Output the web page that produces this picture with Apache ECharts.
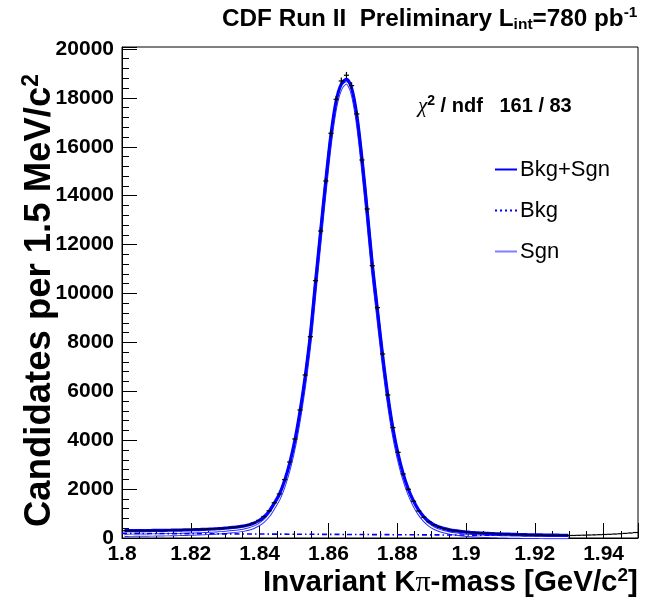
<!DOCTYPE html>
<html>
<head>
<meta charset="utf-8">
<script src="https://cdn.jsdelivr.net/npm/echarts@6/dist/echarts.min.js"></script>
<style>html,body{margin:0;padding:0;background:#fff;}#c{width:657px;height:601px;}</style>
</head>
<body>
<div id="c"></div>
<script>
// Histogram definition: 100 bins of 1.5 MeV from 1.80 to 1.95 GeV
const binLow = 1.8;
const binWidth = 0.0015;
// Candidates per bin
const counts = [
  299, 304, 300, 306, 303, 309, 312, 310, 318, 321,
  326, 333, 337, 342, 350, 357, 366, 375, 386, 398,
  414, 434, 458, 490, 535, 610, 720, 880, 1110, 1440,
  1800, 2385, 3108, 4049, 5235, 6667, 8233, 10524, 12556, 14601,
  16551, 17942, 18691, 18924, 18500, 17342, 15460, 13456, 11137, 9419,
  7526, 5849, 4513, 3505, 2618, 1992, 1501, 1104, 847, 660,
  540, 450, 385, 338, 300, 272, 250, 232, 216, 203,
  192, 182, 172, 164, 156, 149, 143, 137, 132, 127,
  122, 118, 114, 111, 108, 106, 104, 104, 110, 116,
  122, 128, 136, 144, 152, 162, 174, 188, 204, 224
];
// Fit (Bkg+Sgn) at bin centres, bins 0..86 (fit range 1.80 - 1.93)
const fitTotal = [
  300, 301, 302, 303, 305, 307, 309, 312, 315, 318,
  322, 326, 331, 337, 343, 350, 358, 368, 380, 394,
  411, 432, 455, 485, 530, 600, 705, 860, 1090, 1420,
  1790, 2340, 3060, 3990, 5180, 6600, 8300, 10450, 12550, 14620,
  16500, 17870, 18560, 18760, 18400, 17300, 15520, 13420, 11200, 9330,
  7480, 5850, 4490, 3440, 2620, 1990, 1510, 1140, 870, 670,
  535, 445, 382, 335, 299, 271, 249, 231, 216, 203,
  192, 182, 173, 165, 158, 152, 146, 141, 136, 132,
  128, 124, 121, 118, 115, 112, 110
];
// Signal component at the same points
const sgnFit = [
  110, 112, 114, 116, 119, 122, 125, 129, 132, 136,
  141, 146, 152, 159, 166, 174, 183, 194, 207, 222,
  239, 261, 285, 316, 362, 433, 539, 695, 926, 1257,
  1628, 2178, 2899, 3830, 5021, 6442, 8143, 10294, 12395, 14466,
  16347, 17718, 18409, 18609, 18250, 17151, 15372, 13273, 11054, 9185,
  7336, 5707, 4348, 3299, 2480, 1850, 1371, 1002, 733, 534,
  400, 311, 249, 203, 168, 141, 120, 102, 88, 76,
  70, 62, 55, 48, 43, 38, 34, 30, 27, 24,
  22, 20, 18, 16, 15, 13, 12
];
// Background component (linear)
const bkgMass = [1.8, 1.93];
const bkgValues = [190, 100];

const xTicks = {min: 1.8, max: 1.95, step: 0.02};
const yTicks = {min: 0, max: 20080, step: 2000};

const centre = i => binLow + binWidth * (i + 0.5);
const dataPts = counts.map((c, i) => [centre(i), c, Math.sqrt(c)]);
const totalPts = fitTotal.map((v, i) => [centre(i), v]);
const sgnPts = sgnFit.map((v, i) => [centre(i), v]);
const bkgPts = bkgMass.map((m, i) => [m, bkgValues[i]]);

const FONT = 'Liberation Sans, Arial, Helvetica, sans-serif';
const chart = echarts.init(document.getElementById('c'), null, {renderer: 'canvas'});

chart.setOption({
  animation: false,
  backgroundColor: '#fff',
  grid: {left: 122, right: 19, top: 47, bottom: 63, show: true, borderColor: '#000', borderWidth: 1, backgroundColor: 'transparent'},
  xAxis: {
    type: 'value', min: xTicks.min, max: xTicks.max, interval: xTicks.step,
    axisLine: {onZero: false, lineStyle: {color: '#000', width: 1}},
    axisTick: {inside: true, length: 15, lineStyle: {color: '#000', width: 1}},
    minorTick: {show: true, splitNumber: 4, length: 7, lineStyle: {color: '#000', width: 1}},
    splitLine: {show: false},
    axisLabel: {color: '#000', fontFamily: FONT, fontWeight: 'bold', fontSize: 21, margin: 6, showMaxLabel: false,
      formatter: v => String(+v.toFixed(2))}
  },
  yAxis: {
    type: 'value', min: yTicks.min, max: yTicks.max, interval: yTicks.step,
    axisLine: {show: true, lineStyle: {color: '#000', width: 1}},
    axisTick: {inside: true, length: 15, lineStyle: {color: '#000', width: 1}},
    minorTick: {show: true, splitNumber: 5, length: 7, lineStyle: {color: '#000', width: 1}},
    splitLine: {show: false},
    axisLabel: {color: '#000', fontFamily: FONT, fontWeight: 'bold', fontSize: 21, margin: 8, showMaxLabel: false,
      formatter: v => String(Math.round(v))}
  },
  legend: {
    orient: 'vertical', left: 490, top: 152, itemWidth: 22, itemHeight: 14, itemGap: 16,
    textStyle: {fontFamily: FONT, fontSize: 22, color: '#000', lineHeight: 25, padding: [0, 0, 0, -2]},
    data: [
      {name: 'Bkg+Sgn', icon: 'path://M0,6 L22,6 L22,8 L0,8 Z', itemStyle: {color: '#0000ff'}},
      {name: 'Bkg', icon: 'path://M0,6 L2,6 L2,8 L0,8 Z M5,6 L7,6 L7,8 L5,8 Z M10,6 L12,6 L12,8 L10,8 Z M15,6 L17,6 L17,8 L15,8 Z M20,6 L22,6 L22,8 L20,8 Z', itemStyle: {color: '#0000ff'}},
      {name: 'Sgn', icon: 'path://M0,6 L22,6 L22,8 L0,8 Z', itemStyle: {color: '#7f7fff'}}
    ]
  },
  series: [
    {name: 'Sgn', type: 'line', data: sgnPts, showSymbol: false, symbol: 'none', smooth: 0.3,
      lineStyle: {color: '#2b2bff', width: 3.2}, itemStyle: {color: '#7f7fff'}, z: 2},
    {name: 'SgnInner', type: 'line', data: sgnPts, showSymbol: false, symbol: 'none', smooth: 0.3,
      lineStyle: {color: '#ffffff', width: 1.3}, z: 2},
    {name: 'Bkg', type: 'line', data: bkgPts, showSymbol: false, symbol: 'none',
      lineStyle: {color: '#0000ff', width: 1.6, type: [5, 3, 1.5, 3]}, itemStyle: {color: '#0000ff'}, z: 3},
    {name: 'Bkg+Sgn', type: 'line', data: totalPts, showSymbol: false, symbol: 'none', smooth: 0.3,
      lineStyle: {color: '#0000ff', width: 3.2}, itemStyle: {color: '#0000ff'}, z: 4},
    {name: 'Data', type: 'custom', data: dataPts, clip: true, z: 5,
      renderItem: (params, api) => {
        const x = api.value(0), y = api.value(1), e = api.value(2);
        const c = api.coord([x, y]);
        const l = api.coord([x - binWidth / 2, y]);
        const r = api.coord([x + binWidth / 2, y]);
        const t = api.coord([x, y + e]);
        const b = api.coord([x, y - e]);
        const st = {stroke: '#000', lineWidth: 1.2};
        return {type: 'group', children: [
          {type: 'line', shape: {x1: l[0], y1: c[1], x2: r[0], y2: c[1]}, style: st},
          {type: 'line', shape: {x1: c[0], y1: t[1], x2: c[0], y2: b[1]}, style: st}
        ]};
      }}
  ],
  graphic: [
    {type: 'text', left: 222, top: 5, style: {
      rich: {
        a: {fontFamily: FONT, fontWeight: 'bold', fontSize: 24.3, lineHeight: 28, verticalAlign: 'middle', fill: '#000'},
        s: {fontFamily: FONT, fontWeight: 'bold', fontSize: 15.5, lineHeight: 12, verticalAlign: 'bottom', fill: '#000'},
        p: {fontFamily: FONT, fontWeight: 'bold', fontSize: 15.5, lineHeight: 12, verticalAlign: 'top', fill: '#000'}
      },
      text: '{a|CDF Run II  Preliminary L}{s|int}{a|=780 pb}{p|-1}'
    }},
    {type: 'text', left: 418, top: 94, style: {
      rich: {
        a: {fontFamily: FONT, fontWeight: 'bold', fontSize: 20, lineHeight: 24, verticalAlign: 'middle', fill: '#000'},
        g: {fontFamily: 'Liberation Serif, serif', fontStyle: 'italic', fontSize: 21, lineHeight: 24, verticalAlign: 'middle', fill: '#000'},
        p: {fontFamily: FONT, fontWeight: 'bold', fontSize: 14, lineHeight: 12, verticalAlign: 'top', fill: '#000'}
      },
      text: '{g|χ}{p|2}{a| / ndf   161 / 83}'
    }},
    {type: 'text', left: 263, top: 566, style: {
      rich: {
        a: {fontFamily: FONT, fontWeight: 'bold', fontSize: 29.5, lineHeight: 34, verticalAlign: 'middle', fill: '#000'},
        g: {fontFamily: 'Liberation Serif, serif', fontSize: 30, lineHeight: 34, verticalAlign: 'middle', fill: '#000'},
        p: {fontFamily: FONT, fontWeight: 'bold', fontSize: 19, lineHeight: 16, verticalAlign: 'top', fill: '#000'}
      },
      text: '{a|Invariant K}{g|π}{a|-mass [GeV/c}{p|2}{a|]}'
    }},
    {type: 'text', x: 20, y: 527, rotation: Math.PI / 2, style: {
      rich: {
        a: {fontFamily: FONT, fontWeight: 'bold', fontSize: 36.5, lineHeight: 40, verticalAlign: 'middle', fill: '#000'},
        p: {fontFamily: FONT, fontWeight: 'bold', fontSize: 23, lineHeight: 20, verticalAlign: 'top', fill: '#000'}
      },
      text: '{a|Candidates per 1.5 MeV/c}{p|2}'
    }}
  ]
});
</script>
</body>
</html>
